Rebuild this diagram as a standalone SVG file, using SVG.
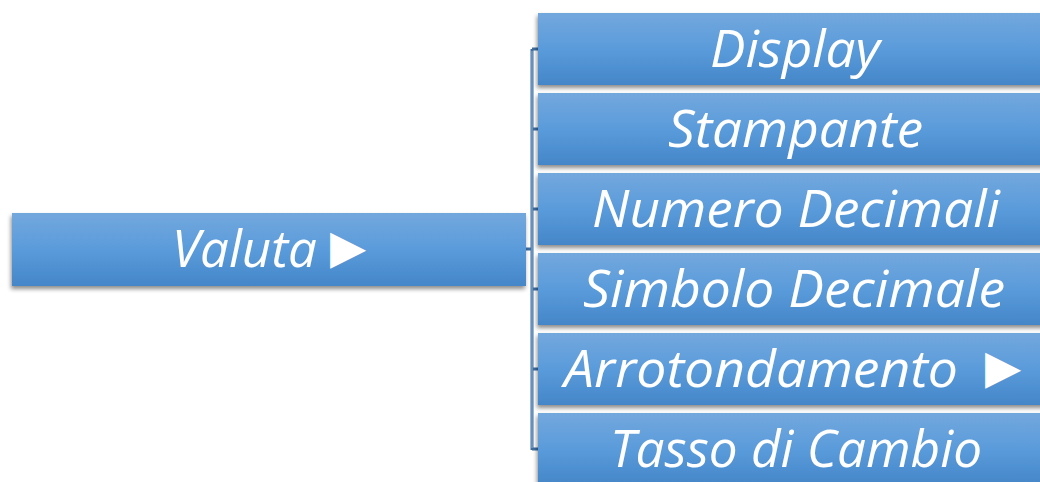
<svg xmlns="http://www.w3.org/2000/svg" width="1040" height="482" viewBox="0 0 1040 482">
<style>
.box{fill:url(#g);filter:url(#sh)}
.t{fill:#fff;font-family:"Open Sans","Liberation Sans",sans-serif;font-style:italic;font-size:52px}
.tri{fill:#fff;font-family:"DejaVu Sans",sans-serif;font-size:47px}
.ln{fill:none;stroke:#3F6E9F;stroke-width:3}
.lni{fill:none;stroke:#8FB2DC;stroke-width:1}
</style>
<defs>
<linearGradient id="g" x1="0" y1="0" x2="0" y2="1">
<stop offset="0" stop-color="#73A8DD"/>
<stop offset="0.5" stop-color="#5A9BDB"/>
<stop offset="1" stop-color="#4486C8"/>
</linearGradient>
<filter id="sh" x="-5%" y="-20%" width="110%" height="150%">
<feDropShadow dx="-1" dy="3" stdDeviation="2" flood-color="#000" flood-opacity="0.45"/>
</filter>
</defs>
<g id="connectors">
<path class="ln" d="M525 249H532M532 49V450M532 49H538M532 129H538M532 209H538M532 289H538M532 369H538M532 449H538"/>
<path class="lni" d="M532 51V448"/>
</g>
<g id="valuta">
<rect class="box" x="12" y="213" width="514" height="73"/>
<text class="t" x="172" y="267" textLength="145" lengthAdjust="spacingAndGlyphs">Valuta</text>
<text class="tri" x="330" y="263">▶</text>
</g>
<g id="display">
<rect class="box" x="538" y="13" width="520" height="72"/>
<text class="t" x="710" y="66.5" textLength="170" lengthAdjust="spacingAndGlyphs">Display</text>
</g>
<g id="stampante">
<rect class="box" x="538" y="93" width="520" height="72"/>
<text class="t" x="668" y="146.5" textLength="255" lengthAdjust="spacingAndGlyphs">Stampante</text>
</g>
<g id="numero">
<rect class="box" x="538" y="173" width="520" height="72"/>
<text class="t" x="592" y="226.5" textLength="408" lengthAdjust="spacingAndGlyphs">Numero Decimali</text>
</g>
<g id="simbolo">
<rect class="box" x="538" y="253" width="520" height="72"/>
<text class="t" x="583" y="306.5" textLength="422" lengthAdjust="spacingAndGlyphs">Simbolo Decimale</text>
</g>
<g id="arrotondamento">
<rect class="box" x="538" y="333" width="520" height="72"/>
<text class="t" x="564" y="386.5" textLength="394" lengthAdjust="spacingAndGlyphs">Arrotondamento</text>
<text class="tri" x="985" y="383">▶</text>
</g>
<g id="tasso">
<rect class="box" x="538" y="413" width="520" height="72"/>
<text class="t" x="610" y="466.5" textLength="372" lengthAdjust="spacingAndGlyphs">Tasso di Cambio</text>
</g>
</svg>
